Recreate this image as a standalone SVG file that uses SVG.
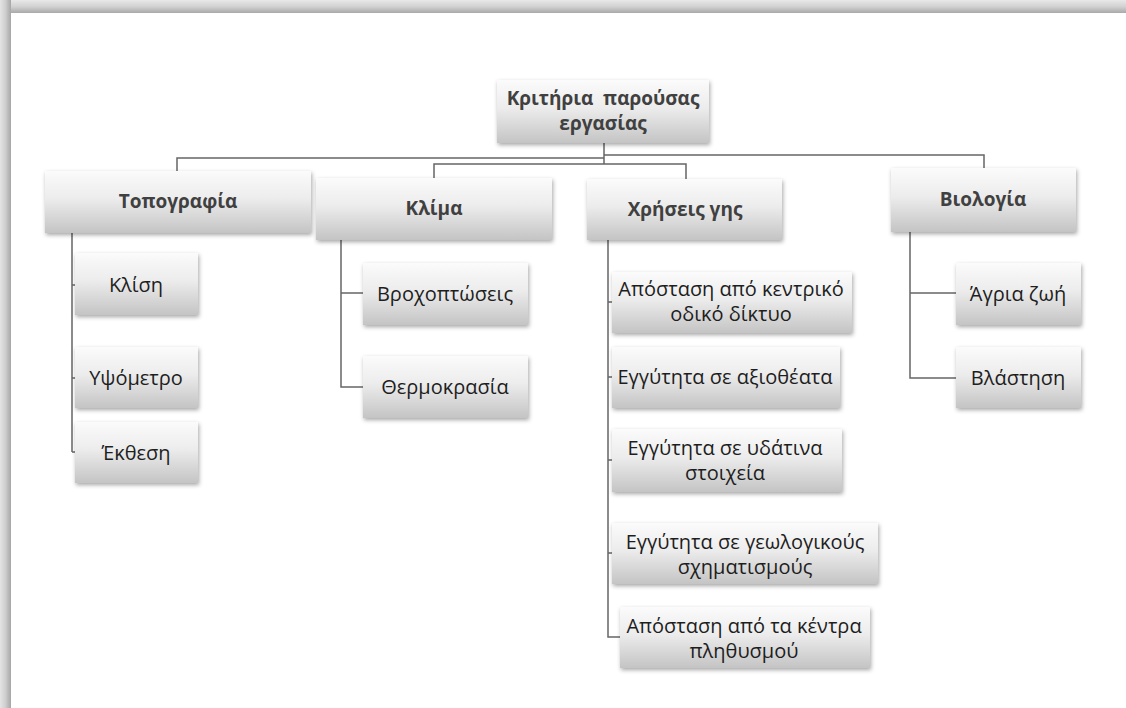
<svg xmlns="http://www.w3.org/2000/svg" width="1126" height="708" viewBox="0 0 1126 708">
<defs>
<linearGradient id="boxg" x1="0" y1="0" x2="0" y2="1">
<stop offset="0" stop-color="#fbfbfb"/>
<stop offset="0.45" stop-color="#ececec"/>
<stop offset="1" stop-color="#c4c4c4"/>
</linearGradient>
<linearGradient id="topband" x1="0" y1="0" x2="0" y2="1">
<stop offset="0" stop-color="#e8e8e8"/>
<stop offset="0.5" stop-color="#d2d2d2"/>
<stop offset="1" stop-color="#a9a9a9"/>
</linearGradient>
<linearGradient id="leftband" x1="0" y1="0" x2="1" y2="0">
<stop offset="0" stop-color="#e4e4e4"/>
<stop offset="0.5" stop-color="#cecece"/>
<stop offset="1" stop-color="#a6a6a6"/>
</linearGradient>
<filter id="sh" x="-10%" y="-10%" width="125%" height="140%">
<feDropShadow dx="1" dy="2" stdDeviation="2" flood-color="#000" flood-opacity="0.35"/>
</filter>
</defs>
<style>
.box{fill:url(#boxg);filter:url(#sh);}
.t1{font-family:"Open Sans","Noto Sans","DejaVu Sans",sans-serif;font-weight:bold;font-size:19px;fill:#404040;text-anchor:middle;white-space:pre;}
.t2{font-family:"Open Sans","Noto Sans","DejaVu Sans",sans-serif;font-size:20px;fill:#1e1e1e;text-anchor:middle;}
.c{fill:none;stroke:#666;stroke-width:1.5;}
</style>
<rect x="0" y="0" width="1126" height="708" fill="#ffffff"/>
<rect x="0" y="0" width="1126" height="13" fill="url(#topband)"/>
<rect x="0" y="0" width="11" height="708" fill="url(#leftband)"/>

<g id="connectors">
<path class="c" d="M604,143 V164"/>
<path class="c" d="M177,171 V158 H604"/>
<path class="c" d="M434,178 V164 H686 V179"/>
<path class="c" d="M604,155 H984 V168"/>
<path class="c" d="M72,233 V452 M72,285 H75 M72,378 H75 M72,452 H75"/>
<path class="c" d="M341,240 V387 H363 M341,293 H363"/>
<path class="c" d="M608,240 V637 H620 M608,302 H612 M608,377 H612 M608,460 H612 M608,553 H612"/>
<path class="c" d="M910,232 V378 H956 M910,293 H956"/>
</g>

<g id="root">
<rect class="box" x="497" y="80" width="212" height="63"/>
<text class="t1" x="603" y="105">Κριτήρια  παρούσας</text>
<text class="t1" x="603" y="130">εργασίας</text>
</g>

<g id="topografia">
<rect class="box" x="45" y="171" width="266" height="62"/>
<text class="t1" x="178" y="208">Τοπογραφία</text>
</g>
<g id="klima">
<rect class="box" x="316" y="178" width="236" height="62"/>
<text class="t1" x="434" y="215">Κλίμα</text>
</g>
<g id="xriseis">
<rect class="box" x="587" y="179" width="195" height="61"/>
<text class="t1" x="685" y="216">Χρήσεις γης</text>
</g>
<g id="viologia">
<rect class="box" x="891" y="168" width="185" height="64"/>
<text class="t1" x="983" y="206">Βιολογία</text>
</g>

<g id="klisi">
<rect class="box" x="75" y="253" width="123" height="62"/>
<text class="t2" x="136" y="292">Κλίση</text>
</g>
<g id="ypsometro">
<rect class="box" x="75" y="347" width="123" height="61"/>
<text class="t2" x="136" y="385">Υψόμετρο</text>
</g>
<g id="ekthesi">
<rect class="box" x="75" y="422" width="123" height="61"/>
<text class="t2" x="136" y="460">Έκθεση</text>
</g>

<g id="vroxoptoseis">
<rect class="box" x="363" y="263" width="165" height="62"/>
<text class="t2" x="445" y="301">Βροχοπτώσεις</text>
</g>
<g id="thermokrasia">
<rect class="box" x="363" y="356" width="165" height="62"/>
<text class="t2" x="445" y="394">Θερμοκρασία</text>
</g>

<g id="apostasi-odiko">
<rect class="box" x="612" y="272" width="240" height="61"/>
<text class="t2" x="731" y="295.5">Απόσταση από κεντρικό</text>
<text class="t2" x="731" y="320.5">οδικό δίκτυο</text>
</g>
<g id="axiotheata">
<rect class="box" x="612" y="347" width="228" height="61"/>
<text class="t2" x="725" y="384">Εγγύτητα σε αξιοθέατα</text>
</g>
<g id="ydatina">
<rect class="box" x="612" y="429" width="230" height="63"/>
<text class="t2" x="725" y="455">Εγγύτητα σε υδάτινα</text>
<text class="t2" x="725" y="480">στοιχεία</text>
</g>
<g id="geologikous">
<rect class="box" x="612" y="523" width="266" height="61"/>
<text class="t2" x="745" y="548.5">Εγγύτητα σε γεωλογικούς</text>
<text class="t2" x="745" y="573.5">σχηματισμούς</text>
</g>
<g id="kentra">
<rect class="box" x="620" y="607" width="250" height="61"/>
<text class="t2" x="744" y="632.5">Απόσταση από τα κέντρα</text>
<text class="t2" x="744" y="657.5">πληθυσμού</text>
</g>

<g id="agria-zoi">
<rect class="box" x="956" y="263" width="125" height="62"/>
<text class="t2" x="1018" y="301">Άγρια ζωή</text>
</g>
<g id="vlastisi">
<rect class="box" x="956" y="347" width="125" height="61"/>
<text class="t2" x="1018" y="385">Βλάστηση</text>
</g>
</svg>
